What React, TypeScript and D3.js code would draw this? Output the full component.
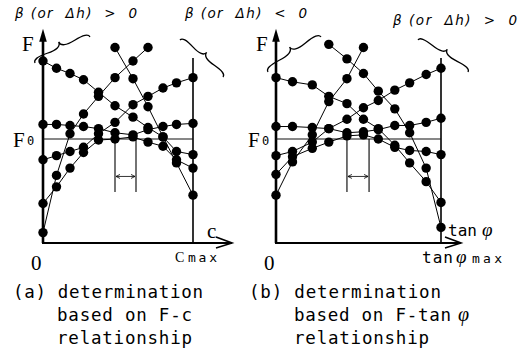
import React from "react";
import * as d3 from "d3";

// Relative abscissae of the computed points (c / c_max and tanφ / tanφ_max)
const cRatios = [0, 0.09, 0.18, 0.27, 0.37, 0.48, 0.6, 0.7, 0.8, 0.89, 1.0];
const tanRatios = [0, 0.1, 0.22, 0.32, 0.43, 0.53, 0.62, 0.72, 0.81, 0.91, 1.0];

// F / F0 along each curve of the F–c diagram
const fcA = [1.75, 1.68, 1.63, 1.57, 1.45, 1.32, 1.21, 1.11, 1.02, 0.88, 0.85];
const fcB = [0.1, 0.65, 1.05, 1.24, 1.41, 1.59, 1.75, 1.88];
const fcC = [0.8, 0.84, 0.88, 0.92, 1.05, 1.16, 1.33, 1.41, 1.49, 1.54, 1.59];
const fcD = [1.88, 1.58, 1.31, 1.02, 0.77, 0.46];
const fcE = [1.14, 1.14, 1.13, 1.12, 1.1, 1.06, 1.04, 1.09, 1.12, 1.14, 1.15];
const fcF = [0.38, 0.54, 0.72, 0.87, 0.99, 1.0, 1.02, 0.97, 0.93, 0.8, 0.72];
// first abscissa index of each F–c curve
const fcStarts = [0, 0, 0, 5, 0, 0];

// F / F0 along each curve of the F–tanφ diagram
const ftA = [1.59, 1.55, 1.52, 1.41, 1.34, 1.19, 1.1, 0.94, 0.77, 0.59, 0.39];
const ftB = [0.46, 0.78, 1.04, 1.36, 1.58, 1.88];
const ftC = [0.84, 0.88, 0.97, 1.1, 1.19, 1.3, 1.37, 1.47, 1.54, 1.62, 1.68];
const ftD = [1.91, 1.77, 1.63, 1.46, 1.29, 1.06, 0.72, 0.15];
const ftE = [1.12, 1.12, 1.11, 1.1, 1.06, 1.07, 1.09, 1.13, 1.13, 1.16, 1.2];
const ftF = [0.66, 0.83, 0.91, 0.97, 1.03, 1.04, 1.0, 0.92, 0.89, 0.88, 0.85];
// first abscissa index of each F–tanφ curve
const ftStarts = [0, 0, 0, 3, 0, 0];

// abscissa interval where the curves reach F0
const fcRange = [0.48, 0.62];
const ftRange = [0.43, 0.564];

const BASE_Y = 243;
const F0_Y = 139;

function bracePath(x1: number, y1: number, x2: number, y2: number, w: number, q = 0.6) {
  const len = Math.hypot(x1 - x2, y1 - y2);
  const dx = (x1 - x2) / len;
  const dy = (y1 - y2) / len;
  const qx1 = x1 + q * w * dy, qy1 = y1 - q * w * dx;
  const qx2 = x1 - 0.25 * len * dx + (1 - q) * w * dy, qy2 = y1 - 0.25 * len * dy - (1 - q) * w * dx;
  const tx = x1 - 0.5 * len * dx + w * dy, ty = y1 - 0.5 * len * dy - w * dx;
  const qx3 = x2 + q * w * dy, qy3 = y2 - q * w * dx;
  const qx4 = x1 - 0.75 * len * dx + (1 - q) * w * dy, qy4 = y1 - 0.75 * len * dy - (1 - q) * w * dx;
  return `M${x1},${y1}Q${qx1},${qy1} ${qx2},${qy2}T${tx},${ty}M${x2},${y2}Q${qx3},${qy3} ${qx4},${qy4}T${tx},${ty}`;
}

type PanelProps = {
  left: number;
  right: number;
  axisEnd: number;
  ratios: number[];
  curves: number[][];
  starts: number[];
  range: number[];
};

function Panel({ left, right, axisEnd, ratios, curves, starts, range }: PanelProps) {
  const x = d3.scaleLinear().domain([0, 1]).range([left, right]);
  const y = d3.scaleLinear().domain([0, 1]).range([BASE_Y, F0_Y]);
  const line = d3
    .line<[number, number]>()
    .x((d) => x(d[0]))
    .y((d) => y(d[1]));

  const series = curves.map((vals, i) =>
    vals.map((v, j) => [ratios[j + starts[i]], v] as [number, number])
  );

  const yTop = y(2.04);
  const xa = x(range[0]);
  const xb = x(range[1]);
  const ya = y(0.64);
  const axEnd = axisEnd;

  return (
    <g>
      {/* axes */}
      <line x1={x(0)} y1={y(0)} x2={x(0)} y2={yTop + 8} stroke="#000" strokeWidth={2.6} />
      <path d={`M${x(0)},${yTop - 2}L${x(0) - 3.8},${yTop + 11}L${x(0) + 3.8},${yTop + 11}Z`} fill="#000" />
      <line x1={x(0) - 1} y1={y(0)} x2={axEnd} y2={y(0)} stroke="#000" strokeWidth={2} />
      <path
        d={`M${axEnd - 16},${y(0) - 6}L${axEnd},${y(0)}L${axEnd - 16},${y(0) + 5}`}
        fill="none"
        stroke="#000"
        strokeWidth={1.6}
      />
      <line x1={x(1)} y1={y(0)} x2={x(1)} y2={y(1.78)} stroke="#000" strokeWidth={1.6} />
      {/* F0 level */}
      <line x1={x(0)} y1={y(1)} x2={x(1)} y2={y(1)} stroke="#111" strokeWidth={1.1} />
      {/* interval marker */}
      <line x1={xa} y1={y(1)} x2={xa} y2={y(0.49)} stroke="#000" strokeWidth={1.1} />
      <line x1={xb} y1={y(1)} x2={xb} y2={y(0.49)} stroke="#000" strokeWidth={1.1} />
      <line x1={xa + 1} y1={ya} x2={xb - 1} y2={ya} stroke="#000" strokeWidth={0.8} />
      <path d={`M${xa + 5},${ya - 2}L${xa + 1},${ya}L${xa + 5},${ya + 2}`} fill="none" stroke="#000" strokeWidth={0.8} />
      <path d={`M${xb - 5},${ya - 2}L${xb - 1},${ya}L${xb - 5},${ya + 2}`} fill="none" stroke="#000" strokeWidth={0.8} />
      {/* curves */}
      {series.map((s, i) => (
        <path key={`l${i}`} d={line(s) || ""} fill="none" stroke="#000" strokeWidth={1} />
      ))}
      {series.map((s, i) =>
        s.map((d, j) => <circle key={`p${i}-${j}`} cx={x(d[0])} cy={y(d[1])} r={4.7} fill="#000" />)
      )}
    </g>
  );
}

const serif = "'Liberation Serif', 'DejaVu Serif', serif";
const mono = "'DejaVu Sans Mono', 'Liberation Mono', monospace";
const sans = "'DejaVu Sans', 'Liberation Sans', sans-serif";

export default function App() {
  const topLabel = (x: number, yb: number, sign: string, len: number) => (
    <text
      x={x}
      y={yb}
      fontFamily={sans}
      fontStyle="italic"
      fontSize={13.5}
      textLength={len}
      style={{ whiteSpace: "pre" }}
    >
      {`β (or  Δh)  ${sign}  0`}
    </text>
  );

  return (
    <svg
      width={528}
      height={355}
      viewBox="0 0 528 355"
      style={{ position: "absolute", left: 0, top: 0, background: "#fff" }}
    >
      <rect x={0} y={0} width={528} height={355} fill="#fff" />
      <Panel
        left={43}
        right={193}
        axisEnd={232}
        ratios={cRatios}
        curves={[fcA, fcB, fcC, fcD, fcE, fcF]}
        starts={fcStarts}
        range={fcRange}
      />
      <Panel
        left={276}
        right={441}
        axisEnd={461}
        ratios={tanRatios}
        curves={[ftA, ftB, ftC, ftD, ftE, ftF]}
        starts={ftStarts}
        range={ftRange}
      />

      {/* braces */}
      <g fill="none" stroke="#000" strokeWidth={1.3}>
        <path d={bracePath(35, 63, 90, 37, -9)} />
        <path d={bracePath(180, 40, 223, 77, -8)} />
        <path d={bracePath(268, 72, 321, 37, -9)} />
        <path d={bracePath(418, 40, 468, 72, -8)} />
      </g>

      {/* labels */}
      {topLabel(15, 18, ">", 122)}
      {topLabel(185, 18, "<", 122)}
      {topLabel(393, 25, ">", 124)}

      <text x={22} y={51} fontFamily={serif} fontSize={21}>F</text>
      <text x={256} y={51} fontFamily={serif} fontSize={21}>F</text>
      <text x={13} y={147} fontFamily={serif} fontSize={21}>F</text>
      <text x={27} y={145} fontFamily={mono} fontSize={12}>0</text>
      <text x={248} y={147} fontFamily={serif} fontSize={21}>F</text>
      <text x={262} y={145} fontFamily={mono} fontSize={12}>0</text>

      <text x={31} y={270} fontFamily={serif} fontSize={21}>0</text>
      <text x={264} y={270} fontFamily={serif} fontSize={21}>0</text>

      <text x={207} y={238} fontFamily={serif} fontSize={21}>c</text>
      <text x={175} y={262} fontFamily={serif} fontSize={14}>C</text>
      <text x={188} y={262} fontFamily={mono} fontSize={13} textLength={29}>max</text>

      <text x={448} y={236} fontFamily={mono} fontSize={16} textLength={29}>tan</text>
      <text x={482} y={236} fontFamily={serif} fontStyle="italic" fontSize={19}>φ</text>
      <text x={422} y={263} fontFamily={mono} fontSize={16} textLength={31}>tan</text>
      <text x={456} y={263} fontFamily={serif} fontStyle="italic" fontSize={19}>φ</text>
      <text x={472} y={263} fontFamily={mono} fontSize={13} textLength={30}>max</text>

      {/* captions */}
      <g fontFamily={mono} fontSize={17.5}>
        <text x={13} y={298} textLength={190} style={{ whiteSpace: "pre" }}>(a) determination</text>
        <text x={57} y={321} textLength={135}>based on F-c</text>
        <text x={57} y={344} textLength={135}>relationship</text>
        <text x={249} y={298} textLength={192} style={{ whiteSpace: "pre" }}>(b) determination</text>
        <text x={294} y={321} textLength={157} style={{ whiteSpace: "pre" }}>based on F-tan</text>
        <text x={458} y={321} fontFamily={serif} fontStyle="italic" fontSize={20}>φ</text>
        <text x={294} y={344} textLength={135}>relationship</text>
      </g>
    </svg>
  );
}
